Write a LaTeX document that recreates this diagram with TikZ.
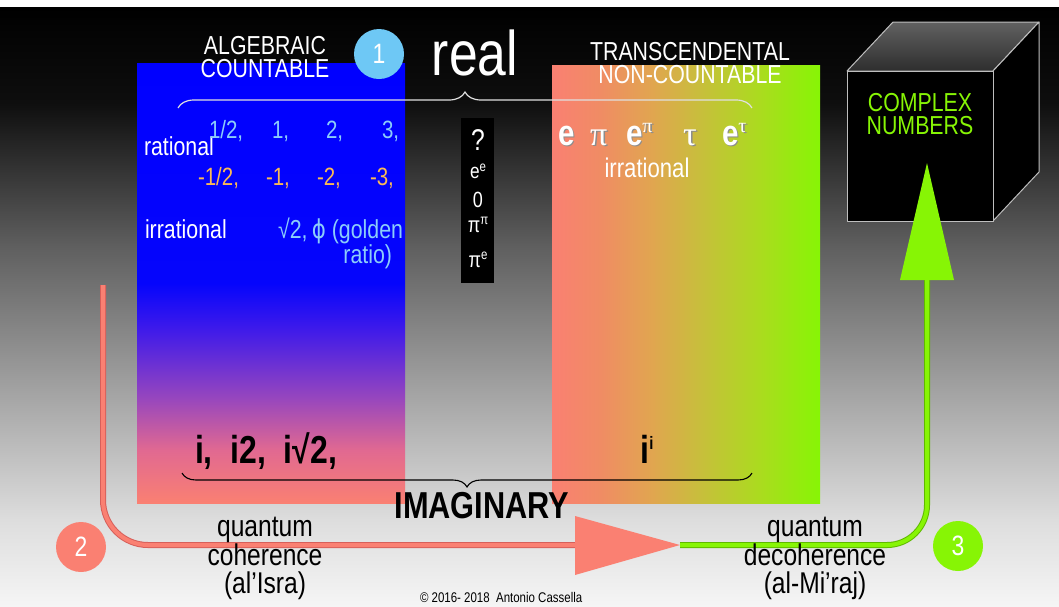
\documentclass[tikz,border=0pt]{standalone}
\usepackage{fontspec}
\setmainfont{Liberation Sans}[FakeStretch=0.82]
\newfontfamily\grk{Liberation Serif}
\newfontfamily\djv{DejaVu Sans}[FakeStretch=0.82]
\usetikzlibrary{arrows.meta,decorations.pathreplacing,shapes.geometric}
\definecolor{salmonc}{RGB}{250,128,114}
\definecolor{salmondk}{RGB}{215,95,90}
\definecolor{lgreen}{RGB}{135,245,5}
\definecolor{lgreendk}{RGB}{95,185,0}
\definecolor{skyc}{RGB}{110,200,245}
\definecolor{lblue}{RGB}{140,205,250}
\definecolor{lorange}{RGB}{250,185,85}
\definecolor{bgA}{RGB}{245,245,245}
\definecolor{bgB}{RGB}{222,222,222}
\definecolor{bgC}{RGB}{168,168,168}
\definecolor{bgD}{RGB}{95,95,95}
\definecolor{bgE}{RGB}{14,14,14}
\definecolor{blA}{RGB}{225,105,145}
\definecolor{blB}{RGB}{150,70,190}
\definecolor{blC}{RGB}{60,25,235}
\definecolor{blD}{RGB}{5,5,252}
\definecolor{trA}{RGB}{240,140,100}
\definecolor{trB}{RGB}{225,165,80}
\definecolor{trC}{RGB}{200,190,60}
\definecolor{trD}{RGB}{170,220,30}
\definecolor{cubeedge}{RGB}{190,190,190}
\pgfdeclareverticalshading{bgshade}{100bp}{color(0bp)=(bgA); color(25bp)=(bgA); color(32bp)=(bgB); color(42bp)=(bgC); color(55bp)=(bgD); color(67bp)=(bgE); color(75bp)=(black); color(100bp)=(black)}
\pgfdeclareverticalshading{blueshade}{100bp}{color(0bp)=(salmonc); color(25bp)=(salmonc); color(31bp)=(blA); color(37bp)=(blB); color(45bp)=(blC); color(50bp)=(blD); color(75bp)=(blue); color(100bp)=(blue)}
\pgfdeclarehorizontalshading{transshade}{100bp}{color(0bp)=(salmonc); color(25bp)=(salmonc); color(34bp)=(trA); color(43.5bp)=(trB); color(52.5bp)=(trC); color(64bp)=(trD); color(75bp)=(lgreen); color(100bp)=(lgreen)}
\tikzset{
  lbl/.style={inner sep=0pt, outer sep=0pt, text=white},
  capt/.style={lbl, anchor=base, font=\fontsize{26}{21}\selectfont, text height=19pt, text depth=0pt},
  blk/.style={inner sep=0pt, outer sep=0pt, text=black},
  qtxt/.style={blk, anchor=base, font=\fontsize{30}{27}\selectfont, text height=21pt, text depth=5pt},
  numc/.style={circle, minimum size=50pt, inner sep=0pt, text=white, font=\fontsize{28}{28}\selectfont},
  pinkline/.style={line width=6pt, draw=salmondk},
  greenline/.style={line width=6pt, draw=lgreendk},
}
\begin{document}
\begin{tikzpicture}[x=1pt,y=-1pt]
\useasboundingbox (0,0) rectangle (1059,606);
\fill[white] (0,0) rectangle (1059,606);
\shade[shading=bgshade] (0,7) rectangle (1059,606);
% big coloured panels
\shade[shading=blueshade] (137,63) rectangle (405,503);
\shade[shading=transshade] (552,65) rectangle (820,503);
% black column
\node[fill=black, minimum width=33pt, minimum height=165pt, inner sep=0pt, anchor=north west] (col) at (461,118) {};
% cube
\coordinate (c1) at (847,71);
\coordinate (c2) at (993,71);
\coordinate (c3) at (993,221);
\coordinate (c4) at (847,221);
\coordinate (c5) at (893,22);
\coordinate (c6) at (1039,22);
\coordinate (c7) at (1039,172);
\shade[top color=black!62, bottom color=black!82] (c1) -- (c5) -- (c6) -- (c2) -- cycle;
\draw[cubeedge, line width=1pt, line join=round] (c1) -- (c5) -- (c6) -- (c2) -- cycle;
\fill[black, draw=cubeedge, line width=1pt, line join=round] (c2) -- (c6) -- (c7) -- (c3) -- cycle;
\fill[black, draw=cubeedge, line width=1pt, line join=round] (c1) -- (c2) -- (c3) -- (c4) -- cycle;
\node[capt, text=lgreen] (cplx1) at (920,111) {COMPLEX};
\node[capt, text=lgreen] (cplx2) at (920,134) {NUMBERS};
% headings
\node[capt] (alg1) at (265,54) {ALGEBRAIC};
\node[capt] (alg2) at (265,77) {COUNTABLE};
\node[capt] (trn1) at (690,60) {TRANSCENDENTAL};
\node[capt] (trn2) at (690,83) {NON-COUNTABLE};
\node[lbl, font=\fontsize{63}{63}\selectfont, anchor=base] (real) at (475,75) {real};
\node[numc, fill=skyc] (n1) at (379,54) {1};
% top brace
\coordinate (tb1) at (178,108);
\coordinate (tb2) at (752,108);
\draw[white!88!black, line width=1.2pt, decorate, decoration={brace, amplitude=16pt}] (tb1) -- (tb2);
% algebraic contents
\node[lbl, font=\fontsize{26}{26}\selectfont, anchor=base west] (rat) at (144,155) {rational};
\begin{scope}[every node/.append style={lbl, text=lblue, font=\fontsize{25}{25}\selectfont, anchor=base west}]
\node (p1) at (209,138) {1/2,};
\node (p2) at (272,138) {1,};
\node (p3) at (326,138) {2,};
\node (p4) at (382,138) {3,};
\end{scope}
\begin{scope}[every node/.append style={lbl, text=lorange, font=\fontsize{25}{25}\selectfont, anchor=base west}]
\node (m1) at (198,185) {-1/2,};
\node (m2) at (266,185) {-1,};
\node (m3) at (317,185) {-2,};
\node (m4) at (370,185) {-3,};
\end{scope}
\node[lbl, font=\fontsize{26}{26}\selectfont, anchor=base west] (irr) at (145,238) {irrational};
\node[lbl, text=lblue, font=\fontsize{26}{26}\selectfont, anchor=base east] (sq) at (403,238) {√2,\,{\djv ϕ} (golden};
\node[lbl, text=lblue, font=\fontsize{26}{26}\selectfont, anchor=base east] (ratio) at (392,263) {ratio)};
% black column contents
\begin{scope}[every node/.append style={lbl, anchor=base}]
\node[font=\fontsize{30}{30}\selectfont] (q) at (478,150) {?};
\node[font=\fontsize{21}{21}\selectfont] (ee) at (478,178) {e\raisebox{7pt}{\fontsize{14}{14}\selectfont e}};
\node[font=\fontsize{22}{22}\selectfont] (zero) at (478,207) {0};
\node[font=\fontsize{22}{22}\selectfont] (pp) at (478,232) {π\raisebox{8pt}{\fontsize{14}{14}\selectfont π}};
\node[font=\fontsize{22}{22}\selectfont] (pe) at (478,267) {π\raisebox{8pt}{\fontsize{14}{14}\selectfont e}};
\end{scope}
% transcendental contents
\begin{scope}[every node/.append style={lbl, anchor=base west}]
\foreach \dx/\dc in {1.6/black!45, 0/white}{
\begin{scope}[shift={(\dx,\dx)}, every node/.append style={text=\dc}]
\node[font=\fontsize{36}{36}\bfseries\selectfont] at (558,145) {e};
\node[font=\fontsize{34}{34}\grk\selectfont] at (590,145) {π};
\node[font=\fontsize{36}{36}\bfseries\selectfont] at (626,145) {e\raisebox{13pt}{\fontsize{20}{20}\grk\mdseries\selectfont π}};
\node[font=\fontsize{34}{34}\grk\selectfont] at (683,145) {τ};
\node[font=\fontsize{36}{36}\bfseries\selectfont] at (722,145) {e\raisebox{13pt}{\fontsize{20}{20}\grk\mdseries\selectfont τ}};
\end{scope}}
\end{scope}
\node[lbl, font=\fontsize{27}{27}\selectfont, anchor=base] (irr2) at (647,177) {irrational};
% imaginary row
\node[blk, font=\fontsize{39}{39}\bfseries\selectfont, anchor=base west] (imgs) at (195,463) {i,\ \ i2,\ \ i√2,};
\node[blk, font=\fontsize{39}{39}\bfseries\selectfont, anchor=base] (ii) at (647,463) {i\raisebox{14pt}{\fontsize{18}{18}\selectfont i}};
\coordinate (bb1) at (752,473);
\coordinate (bb2) at (182,473);
\draw[black, line width=1.1pt, decorate, decoration={brace, amplitude=14pt}] (bb1) -- (bb2);
% arrows
\coordinate (pstart) at (103,285);
\coordinate (mid) at (680,545);
\coordinate (gtip) at (927,163);
\draw[pinkline, rounded corners=45pt] (pstart) |- (575,545);
\draw[line width=4pt, draw=salmonc, rounded corners=45pt] (pstart) |- (575,545);
\fill[salmonc] (575,516) -- (mid) -- (575,575) -- cycle;
\draw[greenline, rounded corners=40pt] (mid) -| (927,280);
\draw[line width=4pt, draw=lgreen, rounded corners=40pt] (mid) -| (927,280);
\fill[lgreen] (900,280) -- (gtip) -- (954,280) -- cycle;
% IMAGINARY
\node[blk, font=\fontsize{37.5}{37.5}\bfseries\selectfont, anchor=base] (imag) at (482,518) {IMAGINARY};
% circles 2 and 3
\node[numc, fill=salmonc] (n2) at (81,547) {2};
\node[numc, fill=lgreen] (n3) at (958,546) {3};
% quantum texts
\node[qtxt] (qc1) at (265,536) {quantum};
\node[qtxt] (qc2) at (265,565) {coherence};
\node[qtxt] (qc3) at (265,593) {(al’Isra)};
\node[qtxt] (qd1) at (815,536) {quantum};
\node[qtxt] (qd2) at (815,565) {decoherence};
\node[qtxt] (qd3) at (815,593) {(al-Mi’raj)};
\node[blk, font=\fontsize{14}{14}\selectfont, anchor=base west] (copy) at (420,602) {© 2016- 2018\ \ Antonio Cassella};
\end{tikzpicture}
\end{document}
